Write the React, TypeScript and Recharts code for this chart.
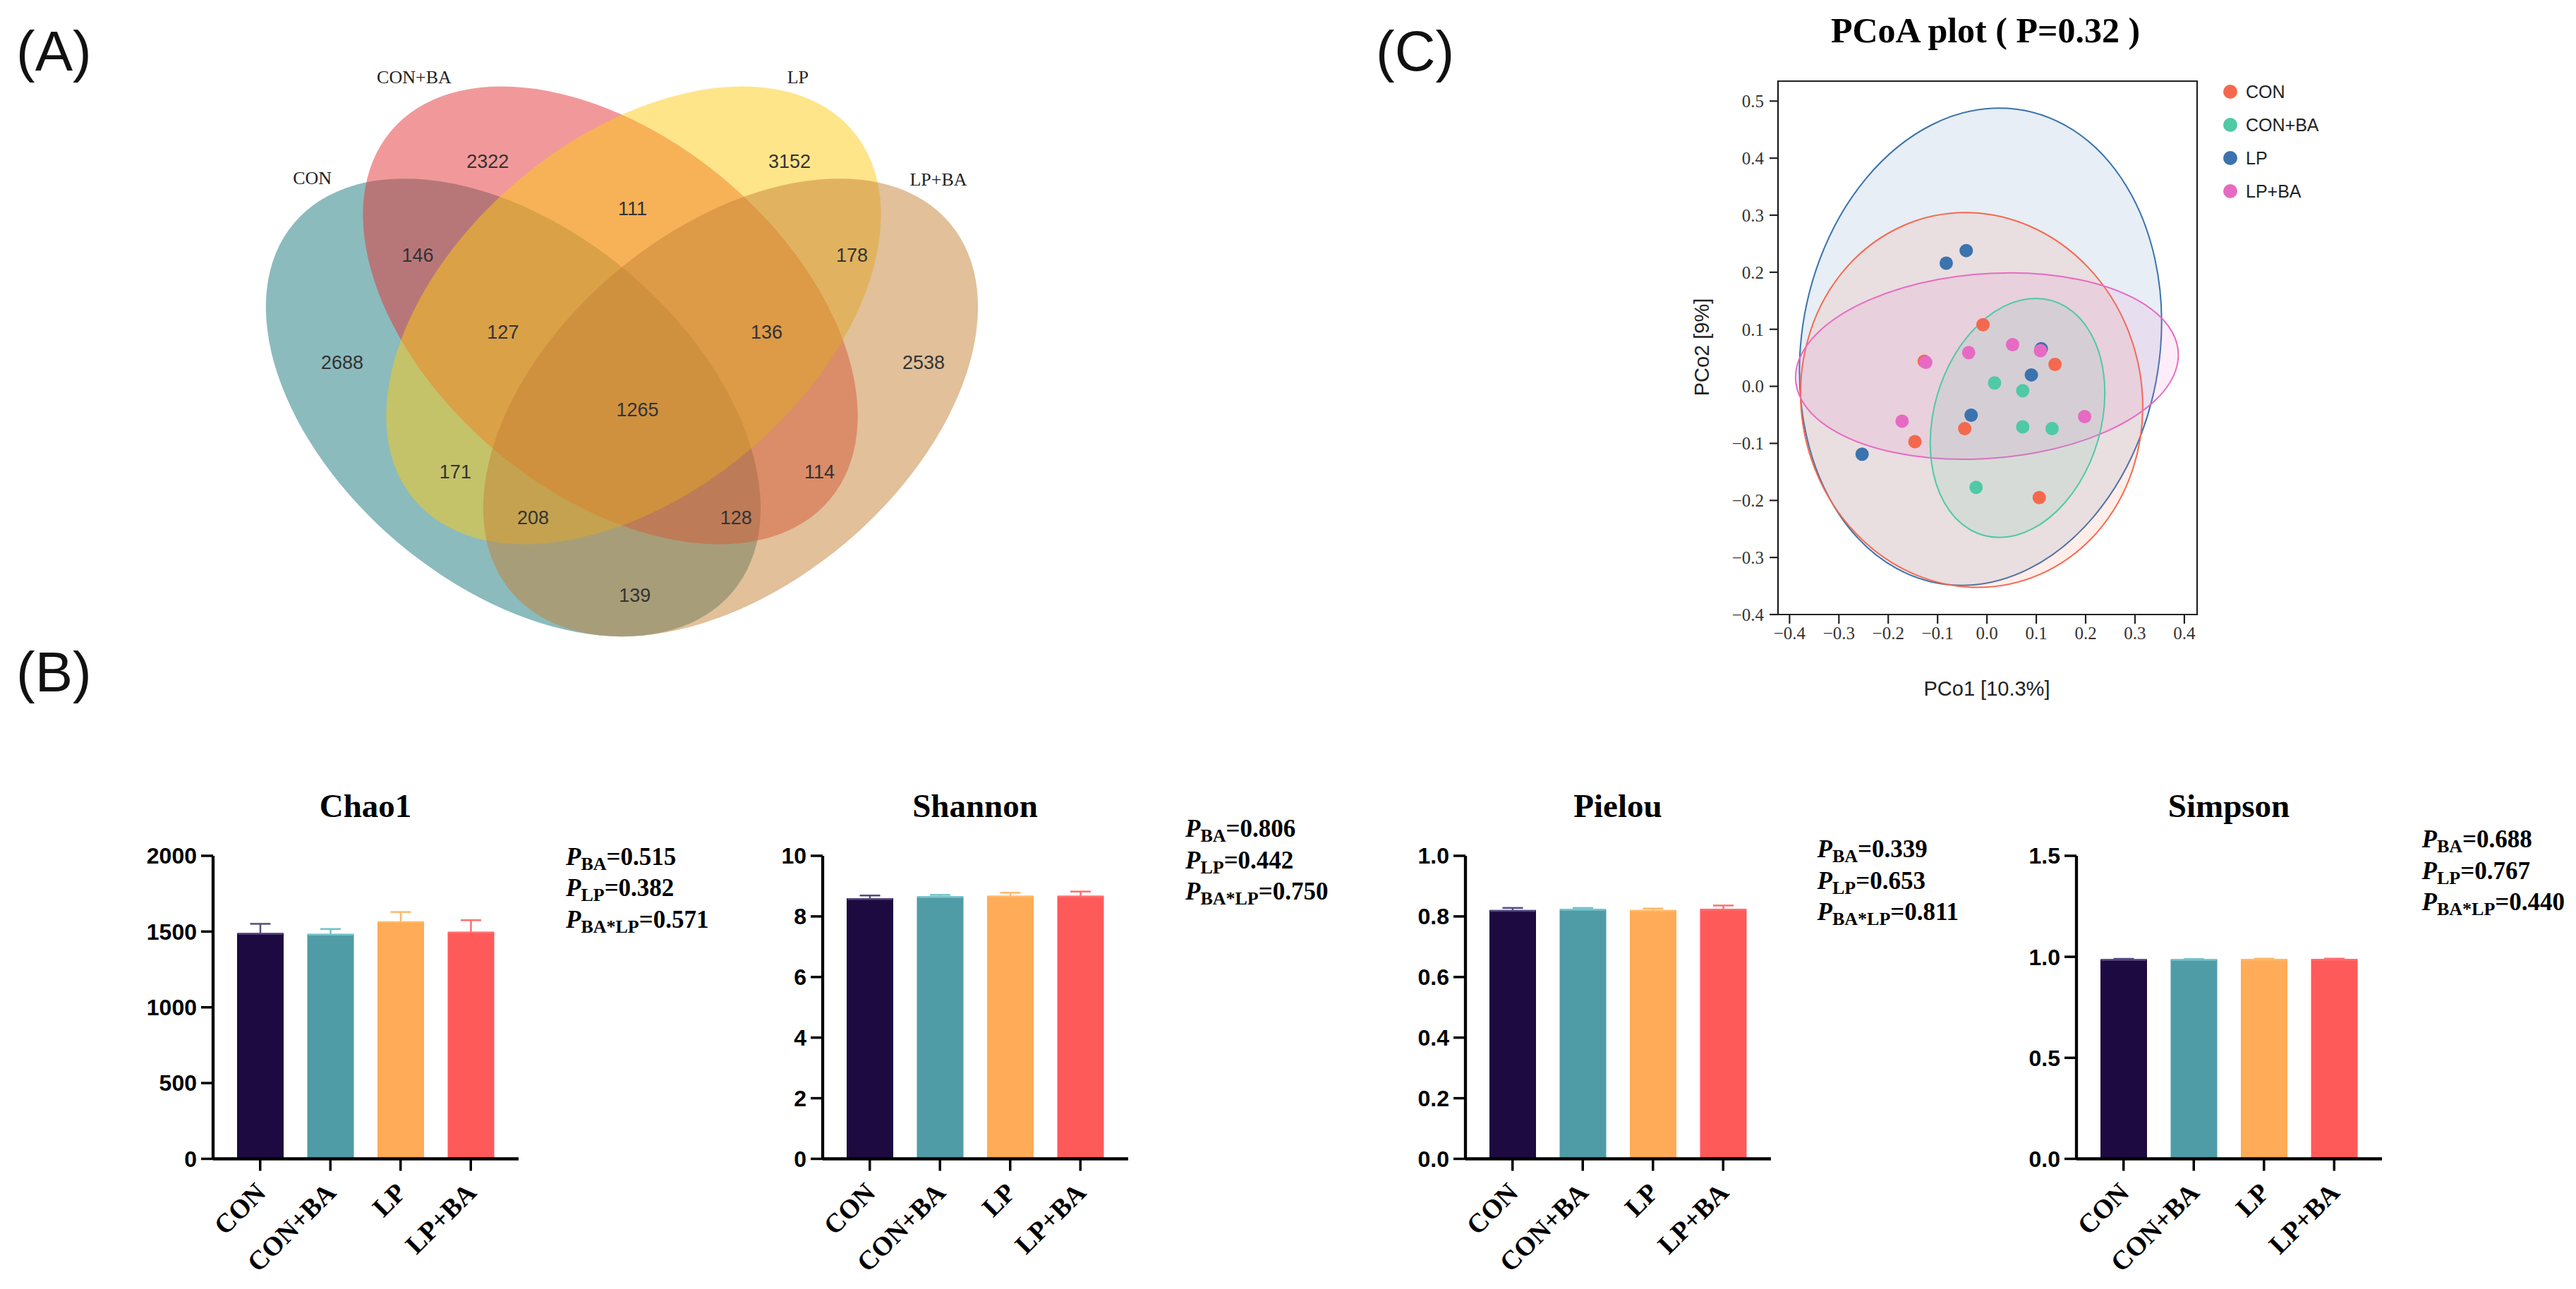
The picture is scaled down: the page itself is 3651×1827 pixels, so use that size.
import React from 'react'
import {
  BarChart,
  Bar,
  XAxis,
  YAxis,
  ScatterChart,
  Scatter,
  ReferenceArea,
  Legend,
} from 'recharts'

const SERIF = '"Liberation Serif", "Times New Roman", serif'
const SANS = '"Liberation Sans", Arial, sans-serif'

const GROUPS = ['CON', 'CON+BA', 'LP', 'LP+BA']

// ---- (A) Venn ----
const VENN_SETS = ['CON', 'CON+BA', 'LP', 'LP+BA']
// region counts, order matches VENN_COUNT_POS
const VENN_COUNTS = [2688, 2322, 3152, 2538, 146, 111, 178, 127, 136, 1265, 171, 114, 208, 128, 139]

// ---- (B) alpha diversity ----
const CHAO1 = [1490, 1484, 1567, 1498]
const CHAO1_SD = [61, 33, 62, 77]
const SHANNON = [8.6, 8.66, 8.68, 8.68]
const SHANNON_SD = [0.09, 0.05, 0.1, 0.14]
const PIELOU = [0.821, 0.824, 0.821, 0.825]
const PIELOU_SD = [0.007, 0.004, 0.005, 0.011]
const SIMPSON = [0.988, 0.988, 0.989, 0.989]
const SIMPSON_SD = [0.002, 0.001, 0.002, 0.002]

const P_BA = ['0.515', '0.806', '0.339', '0.688']
const P_LP = ['0.382', '0.442', '0.653', '0.767']
const P_INT = ['0.571', '0.750', '0.811', '0.440']

const CHAO1_TICKS = [0, 500, 1000, 1500, 2000]
const SHANNON_TICKS = [0, 2, 4, 6, 8, 10]
const PIELOU_TICKS = [0, 0.2, 0.4, 0.6, 0.8, 1.0]
const SIMPSON_TICKS = [0, 0.5, 1.0, 1.5]

// ---- (C) PCoA ----
const PCOA_CON = [[-0.008, 0.108], [0.138, 0.0385], [-0.045, -0.074], [-0.146, -0.097], [0.106, -0.195], [-0.127, 0.044]]
const PCOA_CONBA = [[0.0155, 0.006], [0.0725, -0.0076], [0.0725, -0.071], [0.132, -0.074], [-0.022, -0.177]]
const PCOA_LP = [[-0.0825, 0.216], [-0.042, 0.238], [0.09, 0.02], [-0.032, -0.0505], [-0.253, -0.119], [0.11, 0.066]]
const PCOA_LPBA = [[-0.124, 0.042], [-0.037, 0.059], [0.052, 0.073], [0.1085, 0.0625], [-0.172, -0.061], [0.198, -0.053]]
// confidence ellipses: centre, horizontal half-chord, top conjugate offset
const PCOA_ELLIPSES = [
  { group: 'LP', cx: -0.013, cy: 0.0694, hx: 0.365, tx: 0.038, ty: 0.4183 },
  { group: 'CON', cx: -0.031, cy: -0.024, hx: 0.3465, tx: -0.0124, ty: 0.3285 },
  { group: 'LP+BA', cx: 0.0, cy: 0.0355, hx: 0.385, tx: 0.0465, ty: 0.1635 },
  { group: 'CON+BA', cx: 0.062, cy: -0.0555, hx: 0.173, tx: 0.037, ty: 0.2095 },
]
const PCOA_TICKS_X = [-0.4, -0.3, -0.2, -0.1, 0, 0.1, 0.2, 0.3, 0.4]
const PCOA_TICKS_Y = [-0.4, -0.3, -0.2, -0.1, 0, 0.1, 0.2, 0.3, 0.4, 0.5]

// ---- layout / style ----
const VENN_COLORS = ['#17777B', '#E33335', '#FDCB15', '#C38135']
// ellipse layout in venn units (10.8 px per unit), y up
const VENN_ELLIPSES = [
  { cx: 34.95, cy: 33.92, a: 37.6, b: 23.3, angle: -40 },
  { cx: 47.69, cy: 46.02, a: 37.6, b: 23.3, angle: -40 },
  { cx: 50.74, cy: 46.02, a: 37.6, b: 23.3, angle: 40 },
  { cx: 63.47, cy: 33.92, a: 37.6, b: 23.3, angle: 40 },
]
const VENN_SET_POS = [[8.58, 64.04], [21.94, 77.24], [72.3, 77.24], [90.74, 63.84]]
const VENN_COUNT_POS = [
  [12.5, 39.8], [31.6, 66.2], [71.2, 66.2], [88.8, 39.8], [22.4, 53.9], [50.6, 60.0], [79.4, 53.9],
  [33.6, 43.8], [68.2, 43.8], [51.25, 33.6], [27.35, 25.44], [75.15, 25.44], [37.55, 19.4], [64.2, 19.4], [50.9, 9.24],
]

const BAR_FILL = ['#1D0A40', '#4F9CA6', '#FFAB57', '#FF5A5A']
const BAR_EDGE = ['#55497F', '#72C2C9', '#FFB868', '#FF6E6E']
const PCOA_COLORS: Record<string, string> = { CON: '#F4694E', 'CON+BA': '#4FC9A6', LP: '#3A73AE', 'LP+BA': '#E66AC3' }

const PANELS = [
  { title: 'Chao1', values: CHAO1, sd: CHAO1_SD, ticks: CHAO1_TICKS, dec: 0, x0: 302, px: 500, py: 1225.6 },
  { title: 'Shannon', values: SHANNON, sd: SHANNON_SD, ticks: SHANNON_TICKS, dec: 0, x0: 1166, px: 514, py: 1186 },
  { title: 'Pielou', values: PIELOU, sd: PIELOU_SD, ticks: PIELOU_TICKS, dec: 1, x0: 2077, px: 498.6, py: 1215 },
  { title: 'Simpson', values: SIMPSON, sd: SIMPSON_SD, ticks: SIMPSON_TICKS, dec: 1, x0: 2943, px: 489.6, py: 1201 },
]

const hidden = () => <g />

function ellipseLine(color: string, opacity: number, strokeWidth: number) {
  return (props: any) => {
    const pts = props.points
    if (!pts || pts.length < 3) return <g />
    const [c, h, t] = pts
    const m = `matrix(${h.x - c.x} ${h.y - c.y} ${t.x - c.x} ${t.y - c.y} ${c.x} ${c.y})`
    return (
      <circle
        cx={0}
        cy={0}
        r={1}
        transform={m}
        fill={color}
        fillOpacity={opacity}
        stroke={strokeWidth ? color : 'none'}
        strokeWidth={strokeWidth}
        vectorEffect="non-scaling-stroke"
      />
    )
  }
}

function Venn() {
  const ellipses = VENN_ELLIPSES.map((e) => {
    const r = (e.angle * Math.PI) / 180
    return [
      { x: e.cx, y: e.cy },
      { x: e.cx + e.a * Math.cos(r), y: e.cy + e.a * Math.sin(r) },
      { x: e.cx - e.b * Math.sin(r), y: e.cy + e.b * Math.cos(r) },
    ]
  })
  const counts = VENN_COUNTS.map((v, i) => ({ x: VENN_COUNT_POS[i][0], y: VENN_COUNT_POS[i][1], label: String(v) }))
  const sets = VENN_SETS.map((s, i) => ({ x: VENN_SET_POS[i][0], y: VENN_SET_POS[i][1], label: s }))
  return (
    <ScatterChart width={1080} height={864} margin={{ top: 0, right: 0, bottom: 0, left: 0 }}>
      <XAxis type="number" dataKey="x" domain={[0, 100]} hide />
      <YAxis type="number" dataKey="y" domain={[0, 80]} hide />
      {ellipses.map((d, i) => (
        <Scatter
          key={i}
          data={d}
          shape={hidden}
          line={ellipseLine(VENN_COLORS[i], 0.5, 0)}
          legendType="none"
          isAnimationActive={false}
        />
      ))}
      <Scatter
        data={counts}
        isAnimationActive={false}
        legendType="none"
        shape={(p: any) => (
          <text x={p.cx} y={p.cy} textAnchor="middle" dominantBaseline="central" fontFamily={SANS} fontSize={27} fill="#333">
            {p.payload.label}
          </text>
        )}
      />
      <Scatter
        data={sets}
        isAnimationActive={false}
        legendType="none"
        shape={(p: any) => (
          <text x={p.cx} y={p.cy} textAnchor="middle" dominantBaseline="central" fontFamily={SERIF} fontSize={26} fill="#222">
            {p.payload.label}
          </text>
        )}
      />
    </ScatterChart>
  )
}

const BarWithErr = (props: any) => {
  const { x, y, width, height, payload } = props
  const i = GROUPS.indexOf(payload.group)
  const e = payload.value ? (payload.err * height) / payload.value : 0
  const mid = x + width / 2
  return (
    <g>
      <rect x={x} y={y} width={width} height={height} fill={BAR_FILL[i]} />
      <line x1={x + 1} x2={x + width - 1} y1={y + 1} y2={y + 1} stroke={BAR_EDGE[i]} strokeWidth={2.5} />
      <line x1={mid} x2={mid} y1={y} y2={y - e} stroke={BAR_EDGE[i]} strokeWidth={2.5} />
      <line x1={mid - 14.5} x2={mid + 14.5} y1={y - e} y2={y - e} stroke={BAR_EDGE[i]} strokeWidth={2.5} />
    </g>
  )
}

const CatTick = (props: any) => {
  const { x, y, payload } = props
  const ax = x + 10
  const ay = y + 31
  return (
    <text x={ax} y={ay} transform={`rotate(-45 ${ax} ${ay})`} textAnchor="end" fontFamily={SERIF} fontWeight={700} fontSize={38} fill="#000">
      {payload.value}
    </text>
  )
}

function AlphaBars({ values, sd, ticks, dec }: { values: number[]; sd: number[]; ticks: number[]; dec: number }) {
  const data = GROUPS.map((g, i) => ({ group: g, value: values[i], err: sd[i] }))
  return (
    <BarChart width={603} height={634.5} data={data} margin={{ top: 20, right: 20, bottom: 0, left: 0 }}>
      <XAxis
        dataKey="group"
        type="category"
        interval={0}
        padding={{ left: 17, right: 18 }}
        height={185}
        tickSize={17}
        axisLine={{ stroke: '#000', strokeWidth: 4.3 }}
        tickLine={{ stroke: '#000', strokeWidth: 3.5 }}
        tick={<CatTick />}
      />
      <YAxis
        type="number"
        domain={[0, ticks[ticks.length - 1]]}
        ticks={ticks}
        interval={0}
        width={150}
        tickSize={17}
        tickMargin={6}
        axisLine={{ stroke: '#000', strokeWidth: 4.3 }}
        tickLine={{ stroke: '#000', strokeWidth: 3.5 }}
        tickFormatter={(v: number) => v.toFixed(dec)}
        tick={{ fontFamily: SANS, fontWeight: 700, fontSize: 32, fill: '#000' }}
      />
      <Bar dataKey="value" barSize={66} shape={BarWithErr} isAnimationActive={false} />
    </BarChart>
  )
}

const signed = (v: number) => v.toFixed(1).replace('-', '\u2212')

const PcoaLegend = (props: any) => {
  const items = (props.payload || []).filter((p: any) => GROUPS.includes(p.value))
  return (
    <div style={{ position: 'relative', width: 0, height: 0 }}>
      <div style={{ position: 'absolute', left: 0, top: 0, width: 260 }}>
        {items.map((p: any) => (
          <div key={p.value} style={{ display: 'flex', alignItems: 'center', height: 47 }}>
            <span style={{ display: 'inline-block', width: 20, height: 20, borderRadius: 10, background: PCOA_COLORS[p.value], marginLeft: 3 }} />
            <span style={{ marginLeft: 12, fontFamily: SANS, fontSize: 25, color: '#222' }}>{p.value}</span>
          </div>
        ))}
      </div>
    </div>
  )
}

function Pcoa() {
  const series = [
    { name: 'CON', pts: PCOA_CON },
    { name: 'CON+BA', pts: PCOA_CONBA },
    { name: 'LP', pts: PCOA_LP },
    { name: 'LP+BA', pts: PCOA_LPBA },
  ]
  return (
    <ScatterChart width={900} height={1060} margin={{ top: 115, right: 86, bottom: 129, left: 120 }}>
      <XAxis
        type="number"
        dataKey="x"
        domain={[-0.4234, 0.4259]}
        allowDataOverflow
        ticks={PCOA_TICKS_X}
        interval={0}
        height={60}
        tickSize={13}
        tickMargin={4}
        tickFormatter={signed}
        axisLine={{ stroke: '#222', strokeWidth: 2.2 }}
        tickLine={{ stroke: '#222', strokeWidth: 2.2 }}
        tick={{ fontFamily: SERIF, fontSize: 25, fill: '#333' }}
      />
      <YAxis
        type="number"
        dataKey="y"
        domain={[-0.4, 0.535]}
        allowDataOverflow
        ticks={PCOA_TICKS_Y}
        interval={0}
        width={100}
        tickSize={12}
        tickMargin={8}
        tickFormatter={signed}
        axisLine={{ stroke: '#222', strokeWidth: 2.2 }}
        tickLine={{ stroke: '#222', strokeWidth: 2.2 }}
        tick={{ fontFamily: SERIF, fontSize: 25, fill: '#333' }}
      />
      <ReferenceArea x1={-0.4234} x2={0.4259} y1={-0.4} y2={0.535} fill="none" stroke="#222" strokeWidth={2.2} />
      {PCOA_ELLIPSES.map((e) => (
        <Scatter
          key={'e' + e.group}
          data={[
            { x: e.cx, y: e.cy },
            { x: e.cx + e.hx, y: e.cy },
            { x: e.cx + e.tx, y: e.cy + e.ty },
          ]}
          shape={hidden}
          line={ellipseLine(PCOA_COLORS[e.group], 0.12, 2)}
          legendType="none"
          isAnimationActive={false}
        />
      ))}
      {series.map((s) => (
        <Scatter
          key={s.name}
          name={s.name}
          data={s.pts.map(([x, y]) => ({ x, y }))}
          fill={PCOA_COLORS[s.name]}
          shape={(p: any) => <circle cx={p.cx} cy={p.cy} r={9.5} fill={PCOA_COLORS[s.name]} />}
          isAnimationActive={false}
        />
      ))}
      <Legend layout="vertical" verticalAlign="top" align="right" wrapperStyle={{ left: 848, top: 106.5, width: 0, height: 0 }} content={<PcoaLegend />} />
    </ScatterChart>
  )
}

function PText({ x, y, sub, val }: { x: number; y: number; sub: string; val: string }) {
  return (
    <text x={x} y={y} fontFamily={SERIF} fontWeight={700} fontSize={35} fill="#000">
      <tspan fontStyle="italic">P</tspan>
      <tspan fontSize={26} dy={7}>{sub}</tspan>
      <tspan dy={-7}>={val}</tspan>
    </text>
  )
}

export default function App() {
  return (
    <div style={{ position: 'absolute', left: 0, top: 0, width: 3651, height: 1827, background: '#fff', overflow: 'hidden' }}>
      <div style={{ position: 'absolute', left: 350, top: 80 }}>
        <Venn />
      </div>
      <div style={{ position: 'absolute', left: 2300, top: 0 }}>
        <Pcoa />
      </div>
      {PANELS.map((p) => (
        <div key={p.title} style={{ position: 'absolute', left: p.x0 - 150, top: 1192.5 }}>
          <AlphaBars values={p.values} sd={p.sd} ticks={p.ticks} dec={p.dec} />
        </div>
      ))}
      <svg width={3651} height={1827} style={{ position: 'absolute', left: 0, top: 0, pointerEvents: 'none' }}>
        <text x={23} y={100} fontFamily={SANS} fontSize={80} fill="#111">(A)</text>
        <text x={1950} y={100} fontFamily={SANS} fontSize={80} fill="#111">(C)</text>
        <text x={23} y={980} fontFamily={SANS} fontSize={80} fill="#111">(B)</text>
        <text x={2814} y={60} textAnchor="middle" fontFamily={SERIF} fontWeight={700} fontSize={50} fill="#000">
          PCoA plot ( P=0.32 )
        </text>
        <text x={2412} y={492} transform="rotate(-90 2412 492)" textAnchor="middle" dominantBaseline="central" fontFamily={SANS} fontSize={29} fill="#222">
          PCo2 [9%]
        </text>
        <text x={2816} y={986} textAnchor="middle" fontFamily={SANS} fontSize={29} fill="#222">
          PCo1 [10.3%]
        </text>
        {PANELS.map((p, i) => (
          <g key={p.title}>
            <text x={p.x0 + 216} y={1158} textAnchor="middle" fontFamily={SERIF} fontWeight={700} fontSize={47} fill="#000">
              {p.title}
            </text>
            <PText x={p.x0 + p.px} y={p.py} sub="BA" val={P_BA[i]} />
            <PText x={p.x0 + p.px} y={p.py + 44.5} sub="LP" val={P_LP[i]} />
            <PText x={p.x0 + p.px} y={p.py + 89} sub="BA*LP" val={P_INT[i]} />
          </g>
        ))}
      </svg>
    </div>
  )
}
